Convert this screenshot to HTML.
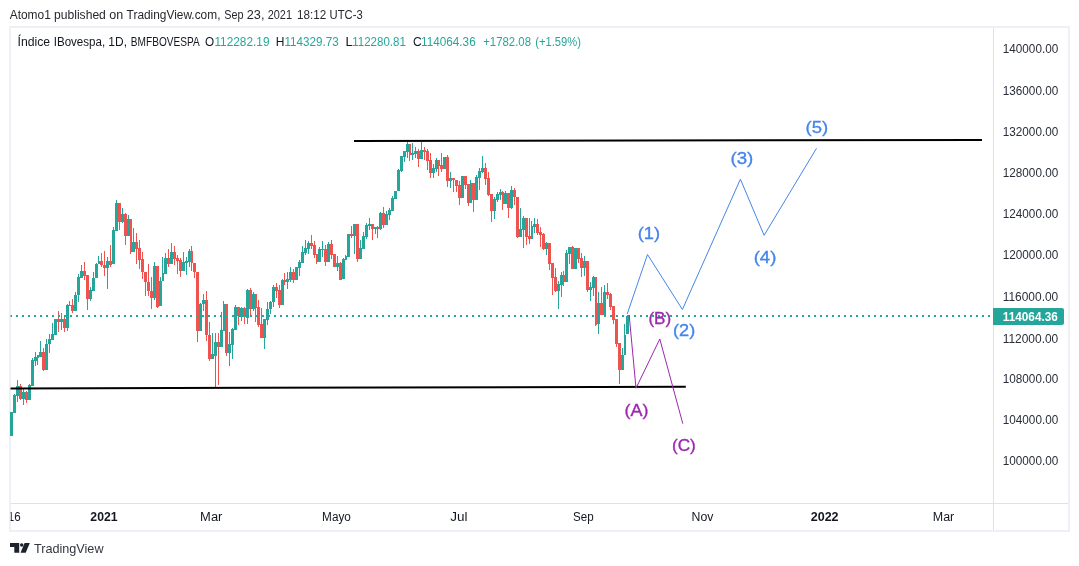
<!DOCTYPE html>
<html lang="es"><head><meta charset="utf-8"><title>Índice IBovespa, 1D, BMFBOVESPA</title>
<style>
html,body{margin:0;padding:0;background:#fff;}
body{width:1079px;height:566px;overflow:hidden;position:relative;font-family:"Liberation Sans",sans-serif;}
svg{position:absolute;left:0;top:0;display:block;will-change:transform;}
text{font-family:"Liberation Sans",sans-serif;}
</style></head><body>
<svg width="1079" height="566" viewBox="0 0 1079 566">
<g shape-rendering="crispEdges">
<rect x="10" y="27" width="1059" height="504" fill="#ffffff" stroke="#eef0f5" stroke-width="2"/>
<rect x="993" y="28" width="1" height="502" fill="#e0e1e5"/>
<rect x="11" y="503" width="1057" height="1" fill="#e0e1e5"/>
</g>
<g shape-rendering="crispEdges">
<rect x="14" y="394" width="1" height="19" fill="#26a69a"/>
<rect x="17" y="380" width="1" height="22" fill="#26a69a"/>
<rect x="20" y="384" width="1" height="16" fill="#ef5350"/>
<rect x="23" y="389" width="1" height="16" fill="#26a69a"/>
<rect x="26" y="391" width="1" height="12" fill="#ef5350"/>
<rect x="29" y="384" width="1" height="16" fill="#26a69a"/>
<rect x="32" y="358" width="1" height="28" fill="#26a69a"/>
<rect x="35" y="352" width="1" height="14" fill="#26a69a"/>
<rect x="37" y="355" width="1" height="10" fill="#26a69a"/>
<rect x="40" y="341" width="1" height="16" fill="#26a69a"/>
<rect x="43" y="348" width="1" height="23" fill="#ef5350"/>
<rect x="46" y="339" width="1" height="31" fill="#26a69a"/>
<rect x="49" y="334" width="1" height="19" fill="#26a69a"/>
<rect x="52" y="323" width="1" height="17" fill="#26a69a"/>
<rect x="58" y="311" width="1" height="21" fill="#ef5350"/>
<rect x="61" y="313" width="1" height="17" fill="#26a69a"/>
<rect x="64" y="317" width="1" height="15" fill="#ef5350"/>
<rect x="67" y="304" width="1" height="27" fill="#26a69a"/>
<rect x="69" y="301" width="1" height="5" fill="#26a69a"/>
<rect x="72" y="299" width="1" height="14" fill="#ef5350"/>
<rect x="75" y="292" width="1" height="19" fill="#26a69a"/>
<rect x="78" y="274" width="1" height="28" fill="#26a69a"/>
<rect x="81" y="265" width="1" height="13" fill="#26a69a"/>
<rect x="84" y="262" width="1" height="18" fill="#ef5350"/>
<rect x="87" y="275" width="1" height="35" fill="#ef5350"/>
<rect x="90" y="287" width="1" height="14" fill="#26a69a"/>
<rect x="93" y="272" width="1" height="19" fill="#26a69a"/>
<rect x="96" y="263" width="1" height="15" fill="#26a69a"/>
<rect x="98" y="256" width="1" height="8" fill="#26a69a"/>
<rect x="101" y="253" width="1" height="14" fill="#ef5350"/>
<rect x="104" y="251" width="1" height="25" fill="#ef5350"/>
<rect x="107" y="257" width="1" height="32" fill="#26a69a"/>
<rect x="110" y="245" width="1" height="22" fill="#ef5350"/>
<rect x="113" y="227" width="1" height="37" fill="#26a69a"/>
<rect x="116" y="200" width="1" height="31" fill="#26a69a"/>
<rect x="119" y="203" width="1" height="27" fill="#ef5350"/>
<rect x="122" y="208" width="1" height="15" fill="#26a69a"/>
<rect x="125" y="213" width="1" height="32" fill="#ef5350"/>
<rect x="128" y="215" width="1" height="21" fill="#26a69a"/>
<rect x="130" y="219" width="1" height="35" fill="#ef5350"/>
<rect x="133" y="228" width="1" height="24" fill="#26a69a"/>
<rect x="136" y="233" width="1" height="31" fill="#ef5350"/>
<rect x="139" y="240" width="1" height="29" fill="#ef5350"/>
<rect x="142" y="252" width="1" height="27" fill="#ef5350"/>
<rect x="145" y="272" width="1" height="24" fill="#ef5350"/>
<rect x="148" y="264" width="1" height="32" fill="#ef5350"/>
<rect x="151" y="277" width="1" height="32" fill="#ef5350"/>
<rect x="154" y="262" width="1" height="38" fill="#26a69a"/>
<rect x="157" y="266" width="1" height="42" fill="#ef5350"/>
<rect x="160" y="277" width="1" height="29" fill="#26a69a"/>
<rect x="162" y="257" width="1" height="24" fill="#26a69a"/>
<rect x="165" y="253" width="1" height="21" fill="#26a69a"/>
<rect x="168" y="249" width="1" height="18" fill="#ef5350"/>
<rect x="171" y="243" width="1" height="21" fill="#26a69a"/>
<rect x="174" y="246" width="1" height="19" fill="#ef5350"/>
<rect x="177" y="255" width="1" height="19" fill="#ef5350"/>
<rect x="180" y="258" width="1" height="19" fill="#ef5350"/>
<rect x="183" y="252" width="1" height="19" fill="#26a69a"/>
<rect x="186" y="257" width="1" height="18" fill="#26a69a"/>
<rect x="189" y="249" width="1" height="18" fill="#26a69a"/>
<rect x="191" y="246" width="1" height="25" fill="#ef5350"/>
<rect x="194" y="263" width="1" height="15" fill="#ef5350"/>
<rect x="197" y="272" width="1" height="70" fill="#ef5350"/>
<rect x="200" y="303" width="1" height="28" fill="#26a69a"/>
<rect x="203" y="294" width="1" height="17" fill="#26a69a"/>
<rect x="206" y="291" width="1" height="50" fill="#ef5350"/>
<rect x="209" y="322" width="1" height="39" fill="#ef5350"/>
<rect x="212" y="333" width="1" height="26" fill="#26a69a"/>
<rect x="215" y="333" width="1" height="54" fill="#26a69a"/>
<rect x="218" y="333" width="1" height="52" fill="#ef5350"/>
<rect x="221" y="312" width="1" height="35" fill="#26a69a"/>
<rect x="223" y="301" width="1" height="30" fill="#26a69a"/>
<rect x="226" y="304" width="1" height="52" fill="#ef5350"/>
<rect x="229" y="332" width="1" height="34" fill="#26a69a"/>
<rect x="232" y="328" width="1" height="31" fill="#26a69a"/>
<rect x="235" y="305" width="1" height="25" fill="#26a69a"/>
<rect x="238" y="307" width="1" height="18" fill="#ef5350"/>
<rect x="241" y="307" width="1" height="14" fill="#26a69a"/>
<rect x="244" y="307" width="1" height="17" fill="#ef5350"/>
<rect x="247" y="289" width="1" height="35" fill="#26a69a"/>
<rect x="250" y="288" width="1" height="27" fill="#ef5350"/>
<rect x="253" y="292" width="1" height="19" fill="#26a69a"/>
<rect x="255" y="294" width="1" height="28" fill="#ef5350"/>
<rect x="258" y="300" width="1" height="27" fill="#ef5350"/>
<rect x="261" y="308" width="1" height="30" fill="#ef5350"/>
<rect x="264" y="319" width="1" height="30" fill="#26a69a"/>
<rect x="267" y="302" width="1" height="23" fill="#26a69a"/>
<rect x="270" y="301" width="1" height="13" fill="#26a69a"/>
<rect x="273" y="285" width="1" height="22" fill="#26a69a"/>
<rect x="276" y="283" width="1" height="15" fill="#ef5350"/>
<rect x="279" y="285" width="1" height="23" fill="#ef5350"/>
<rect x="282" y="279" width="1" height="26" fill="#26a69a"/>
<rect x="284" y="273" width="1" height="12" fill="#ef5350"/>
<rect x="287" y="272" width="1" height="17" fill="#26a69a"/>
<rect x="290" y="267" width="1" height="15" fill="#26a69a"/>
<rect x="293" y="269" width="1" height="14" fill="#ef5350"/>
<rect x="299" y="260" width="1" height="16" fill="#26a69a"/>
<rect x="302" y="246" width="1" height="17" fill="#26a69a"/>
<rect x="305" y="240" width="1" height="15" fill="#26a69a"/>
<rect x="308" y="241" width="1" height="13" fill="#26a69a"/>
<rect x="311" y="235" width="1" height="14" fill="#ef5350"/>
<rect x="314" y="241" width="1" height="17" fill="#ef5350"/>
<rect x="316" y="254" width="1" height="10" fill="#ef5350"/>
<rect x="319" y="247" width="1" height="15" fill="#26a69a"/>
<rect x="322" y="241" width="1" height="16" fill="#26a69a"/>
<rect x="325" y="245" width="1" height="21" fill="#ef5350"/>
<rect x="328" y="242" width="1" height="20" fill="#26a69a"/>
<rect x="331" y="240" width="1" height="19" fill="#ef5350"/>
<rect x="337" y="256" width="1" height="15" fill="#26a69a"/>
<rect x="340" y="262" width="1" height="18" fill="#ef5350"/>
<rect x="343" y="258" width="1" height="21" fill="#26a69a"/>
<rect x="345" y="255" width="1" height="5" fill="#26a69a"/>
<rect x="351" y="226" width="1" height="12" fill="#ef5350"/>
<rect x="354" y="224" width="1" height="30" fill="#26a69a"/>
<rect x="357" y="224" width="1" height="38" fill="#ef5350"/>
<rect x="360" y="240" width="1" height="19" fill="#26a69a"/>
<rect x="363" y="232" width="1" height="17" fill="#26a69a"/>
<rect x="366" y="223" width="1" height="16" fill="#26a69a"/>
<rect x="369" y="218" width="1" height="12" fill="#26a69a"/>
<rect x="372" y="224" width="1" height="16" fill="#ef5350"/>
<rect x="375" y="227" width="1" height="7" fill="#26a69a"/>
<rect x="377" y="226" width="1" height="12" fill="#ef5350"/>
<rect x="380" y="212" width="1" height="18" fill="#26a69a"/>
<rect x="383" y="207" width="1" height="21" fill="#ef5350"/>
<rect x="386" y="211" width="1" height="14" fill="#26a69a"/>
<rect x="389" y="208" width="1" height="12" fill="#26a69a"/>
<rect x="392" y="196" width="1" height="15" fill="#26a69a"/>
<rect x="398" y="169" width="1" height="22" fill="#26a69a"/>
<rect x="401" y="156" width="1" height="16" fill="#26a69a"/>
<rect x="404" y="151" width="1" height="11" fill="#26a69a"/>
<rect x="407" y="142" width="1" height="16" fill="#26a69a"/>
<rect x="409" y="144" width="1" height="17" fill="#ef5350"/>
<rect x="412" y="143" width="1" height="17" fill="#26a69a"/>
<rect x="415" y="147" width="1" height="11" fill="#26a69a"/>
<rect x="418" y="149" width="1" height="18" fill="#ef5350"/>
<rect x="421" y="142" width="1" height="17" fill="#26a69a"/>
<rect x="424" y="147" width="1" height="13" fill="#ef5350"/>
<rect x="427" y="149" width="1" height="21" fill="#ef5350"/>
<rect x="430" y="153" width="1" height="25" fill="#ef5350"/>
<rect x="433" y="164" width="1" height="14" fill="#26a69a"/>
<rect x="436" y="158" width="1" height="14" fill="#26a69a"/>
<rect x="438" y="160" width="1" height="16" fill="#ef5350"/>
<rect x="441" y="153" width="1" height="19" fill="#ef5350"/>
<rect x="447" y="155" width="1" height="32" fill="#ef5350"/>
<rect x="450" y="172" width="1" height="16" fill="#26a69a"/>
<rect x="453" y="178" width="1" height="14" fill="#ef5350"/>
<rect x="456" y="180" width="1" height="12" fill="#ef5350"/>
<rect x="459" y="181" width="1" height="24" fill="#ef5350"/>
<rect x="465" y="176" width="1" height="13" fill="#ef5350"/>
<rect x="468" y="184" width="1" height="22" fill="#ef5350"/>
<rect x="470" y="180" width="1" height="23" fill="#26a69a"/>
<rect x="473" y="183" width="1" height="29" fill="#ef5350"/>
<rect x="476" y="175" width="1" height="25" fill="#26a69a"/>
<rect x="479" y="168" width="1" height="22" fill="#26a69a"/>
<rect x="482" y="156" width="1" height="17" fill="#26a69a"/>
<rect x="485" y="163" width="1" height="22" fill="#ef5350"/>
<rect x="488" y="172" width="1" height="24" fill="#ef5350"/>
<rect x="491" y="194" width="1" height="28" fill="#ef5350"/>
<rect x="494" y="197" width="1" height="22" fill="#26a69a"/>
<rect x="497" y="192" width="1" height="10" fill="#26a69a"/>
<rect x="500" y="189" width="1" height="11" fill="#26a69a"/>
<rect x="502" y="191" width="1" height="19" fill="#ef5350"/>
<rect x="505" y="191" width="1" height="13" fill="#26a69a"/>
<rect x="508" y="193" width="1" height="25" fill="#ef5350"/>
<rect x="511" y="186" width="1" height="23" fill="#26a69a"/>
<rect x="514" y="188" width="1" height="17" fill="#ef5350"/>
<rect x="517" y="197" width="1" height="41" fill="#ef5350"/>
<rect x="520" y="208" width="1" height="29" fill="#26a69a"/>
<rect x="523" y="216" width="1" height="32" fill="#26a69a"/>
<rect x="526" y="218" width="1" height="27" fill="#ef5350"/>
<rect x="529" y="218" width="1" height="26" fill="#ef5350"/>
<rect x="531" y="221" width="1" height="18" fill="#26a69a"/>
<rect x="534" y="218" width="1" height="15" fill="#26a69a"/>
<rect x="537" y="219" width="1" height="16" fill="#ef5350"/>
<rect x="540" y="227" width="1" height="20" fill="#ef5350"/>
<rect x="543" y="233" width="1" height="17" fill="#ef5350"/>
<rect x="546" y="242" width="1" height="13" fill="#26a69a"/>
<rect x="549" y="243" width="1" height="27" fill="#ef5350"/>
<rect x="552" y="263" width="1" height="32" fill="#ef5350"/>
<rect x="555" y="268" width="1" height="24" fill="#ef5350"/>
<rect x="558" y="281" width="1" height="28" fill="#26a69a"/>
<rect x="561" y="272" width="1" height="25" fill="#26a69a"/>
<rect x="563" y="271" width="1" height="15" fill="#ef5350"/>
<rect x="566" y="250" width="1" height="32" fill="#26a69a"/>
<rect x="569" y="247" width="1" height="17" fill="#26a69a"/>
<rect x="572" y="246" width="1" height="23" fill="#ef5350"/>
<rect x="578" y="248" width="1" height="15" fill="#ef5350"/>
<rect x="581" y="253" width="1" height="24" fill="#ef5350"/>
<rect x="584" y="256" width="1" height="20" fill="#26a69a"/>
<rect x="587" y="261" width="1" height="31" fill="#ef5350"/>
<rect x="590" y="282" width="1" height="19" fill="#26a69a"/>
<rect x="593" y="276" width="1" height="20" fill="#26a69a"/>
<rect x="595" y="277" width="1" height="49" fill="#ef5350"/>
<rect x="598" y="292" width="1" height="42" fill="#26a69a"/>
<rect x="601" y="287" width="1" height="28" fill="#ef5350"/>
<rect x="604" y="285" width="1" height="32" fill="#26a69a"/>
<rect x="607" y="283" width="1" height="16" fill="#ef5350"/>
<rect x="610" y="293" width="1" height="17" fill="#ef5350"/>
<rect x="613" y="306" width="1" height="18" fill="#ef5350"/>
<rect x="616" y="319" width="1" height="28" fill="#ef5350"/>
<rect x="619" y="343" width="1" height="41" fill="#ef5350"/>
<rect x="622" y="348" width="1" height="22" fill="#26a69a"/>
<rect x="624" y="324" width="1" height="31" fill="#26a69a"/>
<rect x="627" y="315" width="1" height="19" fill="#26a69a"/>
<rect x="10" y="412" width="3" height="24" fill="#26a69a"/>
<rect x="13" y="395" width="3" height="18" fill="#26a69a"/>
<rect x="16" y="386" width="3" height="10" fill="#26a69a"/>
<rect x="19" y="386" width="3" height="13" fill="#ef5350"/>
<rect x="22" y="392" width="3" height="7" fill="#26a69a"/>
<rect x="25" y="392" width="3" height="8" fill="#ef5350"/>
<rect x="28" y="385" width="3" height="15" fill="#26a69a"/>
<rect x="31" y="360" width="3" height="26" fill="#26a69a"/>
<rect x="34" y="357" width="3" height="4" fill="#26a69a"/>
<rect x="37" y="355" width="2" height="3" fill="#26a69a"/>
<rect x="39" y="352" width="3" height="5" fill="#26a69a"/>
<rect x="42" y="352" width="3" height="18" fill="#ef5350"/>
<rect x="45" y="344" width="3" height="26" fill="#26a69a"/>
<rect x="48" y="339" width="3" height="5" fill="#26a69a"/>
<rect x="51" y="334" width="3" height="6" fill="#26a69a"/>
<rect x="54" y="319" width="3" height="16" fill="#26a69a"/>
<rect x="57" y="319" width="3" height="3" fill="#ef5350"/>
<rect x="60" y="319" width="3" height="3" fill="#26a69a"/>
<rect x="63" y="319" width="3" height="9" fill="#ef5350"/>
<rect x="66" y="305" width="3" height="23" fill="#26a69a"/>
<rect x="69" y="305" width="2" height="1" fill="#26a69a"/>
<rect x="71" y="305" width="3" height="6" fill="#ef5350"/>
<rect x="74" y="295" width="3" height="16" fill="#26a69a"/>
<rect x="77" y="277" width="3" height="18" fill="#26a69a"/>
<rect x="80" y="271" width="3" height="7" fill="#26a69a"/>
<rect x="83" y="271" width="3" height="5" fill="#ef5350"/>
<rect x="86" y="275" width="3" height="24" fill="#ef5350"/>
<rect x="89" y="290" width="3" height="9" fill="#26a69a"/>
<rect x="92" y="278" width="3" height="13" fill="#26a69a"/>
<rect x="95" y="264" width="3" height="14" fill="#26a69a"/>
<rect x="98" y="261" width="2" height="3" fill="#26a69a"/>
<rect x="100" y="261" width="3" height="4" fill="#ef5350"/>
<rect x="103" y="265" width="3" height="3" fill="#ef5350"/>
<rect x="106" y="261" width="3" height="7" fill="#26a69a"/>
<rect x="109" y="261" width="3" height="4" fill="#ef5350"/>
<rect x="112" y="230" width="3" height="34" fill="#26a69a"/>
<rect x="115" y="203" width="3" height="28" fill="#26a69a"/>
<rect x="118" y="203" width="3" height="19" fill="#ef5350"/>
<rect x="121" y="214" width="3" height="8" fill="#26a69a"/>
<rect x="124" y="214" width="3" height="22" fill="#ef5350"/>
<rect x="127" y="219" width="3" height="17" fill="#26a69a"/>
<rect x="130" y="219" width="2" height="33" fill="#ef5350"/>
<rect x="132" y="242" width="3" height="10" fill="#26a69a"/>
<rect x="135" y="242" width="3" height="7" fill="#ef5350"/>
<rect x="138" y="248" width="3" height="12" fill="#ef5350"/>
<rect x="141" y="259" width="3" height="13" fill="#ef5350"/>
<rect x="144" y="272" width="3" height="10" fill="#ef5350"/>
<rect x="147" y="282" width="3" height="9" fill="#ef5350"/>
<rect x="150" y="291" width="3" height="7" fill="#ef5350"/>
<rect x="153" y="266" width="3" height="32" fill="#26a69a"/>
<rect x="156" y="266" width="3" height="41" fill="#ef5350"/>
<rect x="159" y="281" width="3" height="25" fill="#26a69a"/>
<rect x="162" y="273" width="2" height="8" fill="#26a69a"/>
<rect x="164" y="258" width="3" height="16" fill="#26a69a"/>
<rect x="167" y="258" width="3" height="6" fill="#ef5350"/>
<rect x="170" y="252" width="3" height="12" fill="#26a69a"/>
<rect x="173" y="252" width="3" height="7" fill="#ef5350"/>
<rect x="176" y="258" width="3" height="3" fill="#ef5350"/>
<rect x="179" y="260" width="3" height="11" fill="#ef5350"/>
<rect x="182" y="262" width="3" height="9" fill="#26a69a"/>
<rect x="185" y="261" width="3" height="2" fill="#26a69a"/>
<rect x="188" y="251" width="3" height="11" fill="#26a69a"/>
<rect x="191" y="251" width="2" height="12" fill="#ef5350"/>
<rect x="193" y="263" width="3" height="9" fill="#ef5350"/>
<rect x="196" y="272" width="3" height="59" fill="#ef5350"/>
<rect x="199" y="304" width="3" height="27" fill="#26a69a"/>
<rect x="202" y="300" width="3" height="4" fill="#26a69a"/>
<rect x="205" y="300" width="3" height="35" fill="#ef5350"/>
<rect x="208" y="335" width="3" height="24" fill="#ef5350"/>
<rect x="211" y="354" width="3" height="5" fill="#26a69a"/>
<rect x="214" y="342" width="3" height="14" fill="#26a69a"/>
<rect x="217" y="342" width="3" height="5" fill="#ef5350"/>
<rect x="220" y="330" width="3" height="17" fill="#26a69a"/>
<rect x="223" y="304" width="2" height="27" fill="#26a69a"/>
<rect x="225" y="304" width="3" height="49" fill="#ef5350"/>
<rect x="228" y="344" width="3" height="9" fill="#26a69a"/>
<rect x="231" y="329" width="3" height="16" fill="#26a69a"/>
<rect x="234" y="307" width="3" height="23" fill="#26a69a"/>
<rect x="237" y="307" width="3" height="9" fill="#ef5350"/>
<rect x="240" y="308" width="3" height="9" fill="#26a69a"/>
<rect x="243" y="308" width="3" height="9" fill="#ef5350"/>
<rect x="246" y="290" width="3" height="28" fill="#26a69a"/>
<rect x="249" y="290" width="3" height="19" fill="#ef5350"/>
<rect x="252" y="294" width="3" height="15" fill="#26a69a"/>
<rect x="255" y="294" width="2" height="14" fill="#ef5350"/>
<rect x="257" y="307" width="3" height="18" fill="#ef5350"/>
<rect x="260" y="324" width="3" height="14" fill="#ef5350"/>
<rect x="263" y="319" width="3" height="19" fill="#26a69a"/>
<rect x="266" y="309" width="3" height="11" fill="#26a69a"/>
<rect x="269" y="302" width="3" height="7" fill="#26a69a"/>
<rect x="272" y="287" width="3" height="15" fill="#26a69a"/>
<rect x="275" y="287" width="3" height="4" fill="#ef5350"/>
<rect x="278" y="290" width="3" height="15" fill="#ef5350"/>
<rect x="281" y="280" width="3" height="25" fill="#26a69a"/>
<rect x="284" y="280" width="2" height="2" fill="#ef5350"/>
<rect x="286" y="279" width="3" height="3" fill="#26a69a"/>
<rect x="289" y="272" width="3" height="8" fill="#26a69a"/>
<rect x="292" y="272" width="3" height="8" fill="#ef5350"/>
<rect x="295" y="267" width="3" height="13" fill="#26a69a"/>
<rect x="298" y="262" width="3" height="6" fill="#26a69a"/>
<rect x="301" y="252" width="3" height="11" fill="#26a69a"/>
<rect x="304" y="248" width="3" height="5" fill="#26a69a"/>
<rect x="307" y="243" width="3" height="6" fill="#26a69a"/>
<rect x="310" y="243" width="3" height="3" fill="#ef5350"/>
<rect x="313" y="245" width="3" height="10" fill="#ef5350"/>
<rect x="316" y="254" width="2" height="8" fill="#ef5350"/>
<rect x="318" y="249" width="3" height="13" fill="#26a69a"/>
<rect x="321" y="249" width="3" height="1" fill="#26a69a"/>
<rect x="324" y="249" width="3" height="13" fill="#ef5350"/>
<rect x="327" y="244" width="3" height="18" fill="#26a69a"/>
<rect x="330" y="244" width="3" height="11" fill="#ef5350"/>
<rect x="333" y="254" width="3" height="13" fill="#ef5350"/>
<rect x="336" y="263" width="3" height="4" fill="#26a69a"/>
<rect x="339" y="263" width="3" height="17" fill="#ef5350"/>
<rect x="342" y="259" width="3" height="20" fill="#26a69a"/>
<rect x="345" y="256" width="2" height="4" fill="#26a69a"/>
<rect x="347" y="234" width="3" height="23" fill="#26a69a"/>
<rect x="350" y="234" width="3" height="2" fill="#ef5350"/>
<rect x="353" y="224" width="3" height="12" fill="#26a69a"/>
<rect x="356" y="224" width="3" height="35" fill="#ef5350"/>
<rect x="359" y="248" width="3" height="11" fill="#26a69a"/>
<rect x="362" y="236" width="3" height="13" fill="#26a69a"/>
<rect x="365" y="225" width="3" height="12" fill="#26a69a"/>
<rect x="368" y="224" width="3" height="2" fill="#26a69a"/>
<rect x="371" y="224" width="3" height="5" fill="#ef5350"/>
<rect x="374" y="227" width="3" height="2" fill="#26a69a"/>
<rect x="377" y="227" width="2" height="2" fill="#ef5350"/>
<rect x="379" y="213" width="3" height="16" fill="#26a69a"/>
<rect x="382" y="213" width="3" height="12" fill="#ef5350"/>
<rect x="385" y="214" width="3" height="11" fill="#26a69a"/>
<rect x="388" y="210" width="3" height="5" fill="#26a69a"/>
<rect x="391" y="198" width="3" height="13" fill="#26a69a"/>
<rect x="394" y="191" width="3" height="8" fill="#26a69a"/>
<rect x="397" y="170" width="3" height="21" fill="#26a69a"/>
<rect x="400" y="156" width="3" height="15" fill="#26a69a"/>
<rect x="403" y="151" width="3" height="6" fill="#26a69a"/>
<rect x="406" y="144" width="3" height="8" fill="#26a69a"/>
<rect x="409" y="144" width="2" height="11" fill="#ef5350"/>
<rect x="411" y="153" width="3" height="2" fill="#26a69a"/>
<rect x="414" y="151" width="3" height="3" fill="#26a69a"/>
<rect x="417" y="151" width="3" height="8" fill="#ef5350"/>
<rect x="420" y="150" width="3" height="9" fill="#26a69a"/>
<rect x="423" y="150" width="3" height="2" fill="#ef5350"/>
<rect x="426" y="151" width="3" height="10" fill="#ef5350"/>
<rect x="429" y="160" width="3" height="13" fill="#ef5350"/>
<rect x="432" y="168" width="3" height="5" fill="#26a69a"/>
<rect x="435" y="160" width="3" height="9" fill="#26a69a"/>
<rect x="438" y="160" width="2" height="6" fill="#ef5350"/>
<rect x="440" y="165" width="3" height="4" fill="#ef5350"/>
<rect x="443" y="157" width="3" height="12" fill="#26a69a"/>
<rect x="446" y="157" width="3" height="24" fill="#ef5350"/>
<rect x="449" y="178" width="3" height="3" fill="#26a69a"/>
<rect x="452" y="178" width="3" height="2" fill="#ef5350"/>
<rect x="455" y="180" width="3" height="6" fill="#ef5350"/>
<rect x="458" y="185" width="3" height="13" fill="#ef5350"/>
<rect x="461" y="176" width="3" height="22" fill="#26a69a"/>
<rect x="464" y="176" width="3" height="9" fill="#ef5350"/>
<rect x="467" y="184" width="3" height="19" fill="#ef5350"/>
<rect x="470" y="183" width="2" height="20" fill="#26a69a"/>
<rect x="472" y="183" width="3" height="17" fill="#ef5350"/>
<rect x="475" y="177" width="3" height="23" fill="#26a69a"/>
<rect x="478" y="171" width="3" height="7" fill="#26a69a"/>
<rect x="481" y="168" width="3" height="4" fill="#26a69a"/>
<rect x="484" y="168" width="3" height="11" fill="#ef5350"/>
<rect x="487" y="178" width="3" height="17" fill="#ef5350"/>
<rect x="490" y="194" width="3" height="17" fill="#ef5350"/>
<rect x="493" y="199" width="3" height="12" fill="#26a69a"/>
<rect x="496" y="194" width="3" height="6" fill="#26a69a"/>
<rect x="499" y="192" width="3" height="3" fill="#26a69a"/>
<rect x="502" y="192" width="2" height="12" fill="#ef5350"/>
<rect x="504" y="193" width="3" height="11" fill="#26a69a"/>
<rect x="507" y="193" width="3" height="15" fill="#ef5350"/>
<rect x="510" y="190" width="3" height="18" fill="#26a69a"/>
<rect x="513" y="190" width="3" height="7" fill="#ef5350"/>
<rect x="516" y="197" width="3" height="40" fill="#ef5350"/>
<rect x="519" y="229" width="3" height="8" fill="#26a69a"/>
<rect x="522" y="218" width="3" height="12" fill="#26a69a"/>
<rect x="525" y="218" width="3" height="19" fill="#ef5350"/>
<rect x="528" y="236" width="3" height="3" fill="#ef5350"/>
<rect x="531" y="226" width="2" height="13" fill="#26a69a"/>
<rect x="533" y="224" width="3" height="3" fill="#26a69a"/>
<rect x="536" y="224" width="3" height="9" fill="#ef5350"/>
<rect x="539" y="232" width="3" height="3" fill="#ef5350"/>
<rect x="542" y="234" width="3" height="15" fill="#ef5350"/>
<rect x="545" y="243" width="3" height="6" fill="#26a69a"/>
<rect x="548" y="243" width="3" height="21" fill="#ef5350"/>
<rect x="551" y="263" width="3" height="15" fill="#ef5350"/>
<rect x="554" y="277" width="3" height="14" fill="#ef5350"/>
<rect x="557" y="284" width="3" height="7" fill="#26a69a"/>
<rect x="560" y="275" width="3" height="10" fill="#26a69a"/>
<rect x="563" y="275" width="2" height="7" fill="#ef5350"/>
<rect x="565" y="253" width="3" height="29" fill="#26a69a"/>
<rect x="568" y="247" width="3" height="7" fill="#26a69a"/>
<rect x="571" y="247" width="3" height="22" fill="#ef5350"/>
<rect x="574" y="248" width="3" height="21" fill="#26a69a"/>
<rect x="577" y="248" width="3" height="11" fill="#ef5350"/>
<rect x="580" y="258" width="3" height="10" fill="#ef5350"/>
<rect x="583" y="261" width="3" height="7" fill="#26a69a"/>
<rect x="586" y="261" width="3" height="29" fill="#ef5350"/>
<rect x="589" y="287" width="3" height="3" fill="#26a69a"/>
<rect x="592" y="277" width="3" height="11" fill="#26a69a"/>
<rect x="595" y="277" width="2" height="48" fill="#ef5350"/>
<rect x="597" y="303" width="3" height="21" fill="#26a69a"/>
<rect x="600" y="303" width="3" height="12" fill="#ef5350"/>
<rect x="603" y="292" width="3" height="23" fill="#26a69a"/>
<rect x="606" y="292" width="3" height="3" fill="#ef5350"/>
<rect x="609" y="294" width="3" height="13" fill="#ef5350"/>
<rect x="612" y="306" width="3" height="14" fill="#ef5350"/>
<rect x="615" y="319" width="3" height="25" fill="#ef5350"/>
<rect x="618" y="343" width="3" height="27" fill="#ef5350"/>
<rect x="621" y="355" width="3" height="15" fill="#26a69a"/>
<rect x="624" y="335" width="2" height="20" fill="#26a69a"/>
<rect x="626" y="316" width="3" height="18" fill="#26a69a"/>
</g>
<g shape-rendering="crispEdges" fill="#26a69a">
<rect x="10" y="315" width="1" height="2" fill-opacity="0.5"/><rect x="11" y="315" width="1" height="2"/><rect x="16" y="315" width="2" height="2"/><rect x="22" y="315" width="2" height="2"/><rect x="28" y="315" width="2" height="2"/><rect x="34" y="315" width="2" height="2"/><rect x="40" y="315" width="2" height="2"/><rect x="46" y="315" width="2" height="2"/><rect x="52" y="315" width="2" height="2"/><rect x="58" y="315" width="2" height="2"/><rect x="64" y="315" width="2" height="2"/><rect x="70" y="315" width="2" height="2"/><rect x="76" y="315" width="2" height="2"/><rect x="82" y="315" width="2" height="2"/><rect x="88" y="315" width="2" height="2"/><rect x="94" y="315" width="2" height="2"/><rect x="100" y="315" width="2" height="2"/><rect x="106" y="315" width="2" height="2"/><rect x="112" y="315" width="2" height="2"/><rect x="118" y="315" width="2" height="2"/><rect x="124" y="315" width="2" height="2"/><rect x="130" y="315" width="2" height="2"/><rect x="136" y="315" width="2" height="2"/><rect x="142" y="315" width="2" height="2"/><rect x="148" y="315" width="2" height="2"/><rect x="154" y="315" width="2" height="2"/><rect x="160" y="315" width="2" height="2"/><rect x="166" y="315" width="2" height="2"/><rect x="172" y="315" width="2" height="2"/><rect x="178" y="315" width="2" height="2"/><rect x="184" y="315" width="2" height="2"/><rect x="190" y="315" width="2" height="2"/><rect x="196" y="315" width="2" height="2"/><rect x="202" y="315" width="2" height="2"/><rect x="208" y="315" width="2" height="2"/><rect x="214" y="315" width="2" height="2"/><rect x="220" y="315" width="2" height="2"/><rect x="226" y="315" width="2" height="2"/><rect x="232" y="315" width="2" height="2"/><rect x="238" y="315" width="2" height="2"/><rect x="244" y="315" width="2" height="2"/><rect x="250" y="315" width="2" height="2"/><rect x="256" y="315" width="2" height="2"/><rect x="262" y="315" width="2" height="2"/><rect x="268" y="315" width="2" height="2"/><rect x="274" y="315" width="2" height="2"/><rect x="280" y="315" width="2" height="2"/><rect x="286" y="315" width="2" height="2"/><rect x="292" y="315" width="2" height="2"/><rect x="298" y="315" width="2" height="2"/><rect x="304" y="315" width="2" height="2"/><rect x="310" y="315" width="2" height="2"/><rect x="316" y="315" width="2" height="2"/><rect x="322" y="315" width="2" height="2"/><rect x="328" y="315" width="2" height="2"/><rect x="334" y="315" width="2" height="2"/><rect x="340" y="315" width="2" height="2"/><rect x="346" y="315" width="2" height="2"/><rect x="352" y="315" width="2" height="2"/><rect x="358" y="315" width="2" height="2"/><rect x="364" y="315" width="2" height="2"/><rect x="370" y="315" width="2" height="2"/><rect x="376" y="315" width="2" height="2"/><rect x="382" y="315" width="2" height="2"/><rect x="388" y="315" width="2" height="2"/><rect x="394" y="315" width="2" height="2"/><rect x="400" y="315" width="2" height="2"/><rect x="406" y="315" width="2" height="2"/><rect x="412" y="315" width="2" height="2"/><rect x="418" y="315" width="2" height="2"/><rect x="424" y="315" width="2" height="2"/><rect x="430" y="315" width="2" height="2"/><rect x="436" y="315" width="2" height="2"/><rect x="442" y="315" width="2" height="2"/><rect x="448" y="315" width="2" height="2"/><rect x="454" y="315" width="2" height="2"/><rect x="460" y="315" width="2" height="2"/><rect x="466" y="315" width="2" height="2"/><rect x="472" y="315" width="2" height="2"/><rect x="478" y="315" width="2" height="2"/><rect x="484" y="315" width="2" height="2"/><rect x="490" y="315" width="2" height="2"/><rect x="496" y="315" width="2" height="2"/><rect x="502" y="315" width="2" height="2"/><rect x="508" y="315" width="2" height="2"/><rect x="514" y="315" width="2" height="2"/><rect x="520" y="315" width="2" height="2"/><rect x="526" y="315" width="2" height="2"/><rect x="532" y="315" width="2" height="2"/><rect x="538" y="315" width="2" height="2"/><rect x="544" y="315" width="2" height="2"/><rect x="550" y="315" width="2" height="2"/><rect x="556" y="315" width="2" height="2"/><rect x="562" y="315" width="2" height="2"/><rect x="568" y="315" width="2" height="2"/><rect x="574" y="315" width="2" height="2"/><rect x="580" y="315" width="2" height="2"/><rect x="586" y="315" width="2" height="2"/><rect x="592" y="315" width="2" height="2"/><rect x="598" y="315" width="2" height="2"/><rect x="604" y="315" width="2" height="2"/><rect x="610" y="315" width="2" height="2"/><rect x="616" y="315" width="2" height="2"/><rect x="622" y="315" width="2" height="2"/><rect x="628" y="315" width="2" height="2"/><rect x="634" y="315" width="2" height="2"/><rect x="640" y="315" width="2" height="2"/><rect x="646" y="315" width="2" height="2"/><rect x="652" y="315" width="2" height="2"/><rect x="658" y="315" width="2" height="2"/><rect x="664" y="315" width="2" height="2"/><rect x="670" y="315" width="2" height="2"/><rect x="676" y="315" width="2" height="2"/><rect x="682" y="315" width="2" height="2"/><rect x="688" y="315" width="2" height="2"/><rect x="694" y="315" width="2" height="2"/><rect x="700" y="315" width="2" height="2"/><rect x="706" y="315" width="2" height="2"/><rect x="712" y="315" width="2" height="2"/><rect x="718" y="315" width="2" height="2"/><rect x="724" y="315" width="2" height="2"/><rect x="730" y="315" width="2" height="2"/><rect x="736" y="315" width="2" height="2"/><rect x="742" y="315" width="2" height="2"/><rect x="748" y="315" width="2" height="2"/><rect x="754" y="315" width="2" height="2"/><rect x="760" y="315" width="2" height="2"/><rect x="766" y="315" width="2" height="2"/><rect x="772" y="315" width="2" height="2"/><rect x="778" y="315" width="2" height="2"/><rect x="784" y="315" width="2" height="2"/><rect x="790" y="315" width="2" height="2"/><rect x="796" y="315" width="2" height="2"/><rect x="802" y="315" width="2" height="2"/><rect x="808" y="315" width="2" height="2"/><rect x="814" y="315" width="2" height="2"/><rect x="820" y="315" width="2" height="2"/><rect x="826" y="315" width="2" height="2"/><rect x="832" y="315" width="2" height="2"/><rect x="838" y="315" width="2" height="2"/><rect x="844" y="315" width="2" height="2"/><rect x="850" y="315" width="2" height="2"/><rect x="856" y="315" width="2" height="2"/><rect x="862" y="315" width="2" height="2"/><rect x="868" y="315" width="2" height="2"/><rect x="874" y="315" width="2" height="2"/><rect x="880" y="315" width="2" height="2"/><rect x="886" y="315" width="2" height="2"/><rect x="892" y="315" width="2" height="2"/><rect x="898" y="315" width="2" height="2"/><rect x="904" y="315" width="2" height="2"/><rect x="910" y="315" width="2" height="2"/><rect x="916" y="315" width="2" height="2"/><rect x="922" y="315" width="2" height="2"/><rect x="928" y="315" width="2" height="2"/><rect x="934" y="315" width="2" height="2"/><rect x="940" y="315" width="2" height="2"/><rect x="946" y="315" width="2" height="2"/><rect x="952" y="315" width="2" height="2"/><rect x="958" y="315" width="2" height="2"/><rect x="964" y="315" width="2" height="2"/><rect x="970" y="315" width="2" height="2"/><rect x="976" y="315" width="2" height="2"/><rect x="982" y="315" width="2" height="2"/><rect x="988" y="315" width="2" height="2"/>
</g>
<g stroke="#000" stroke-width="2" stroke-linecap="butt"><line x1="354" y1="140.9" x2="982" y2="139.9"/><line x1="10.5" y1="388.4" x2="685.8" y2="386.8"/></g>
<polyline fill="none" stroke="#4585ea" stroke-width="1" points="627.2,314 647.5,254.5 682.4,309.5 740.4,179.2 764.1,235.3 816.5,148.3"/>
<polyline fill="none" stroke="#9c27b0" stroke-width="1" points="629.2,315.5 636,388.2 659.8,339 682.8,423.7"/>
<path d="M993 308h69a2 2 0 0 1 2 2v13a2 2 0 0 1-2 2h-69z" fill="#26a69a"/>
<g fill="#1e222d"><path d="M10 543h9.2v9.8h-4.9v-5.7h-4.3z"/><circle cx="21.7" cy="544.9" r="1.75"/><path d="M24.6 543h5.2l-4.1 9.8h-5.2z"/></g>
<defs><clipPath id="tclip"><rect x="10.6" y="504" width="60" height="26"/></clipPath></defs>
<text x="9.66" y="19.2" font-size="12" fill="#26282e" textLength="41.18" lengthAdjust="spacingAndGlyphs">Atomo1</text>
<text x="54.04" y="19.2" font-size="12" fill="#26282e" textLength="51.81" lengthAdjust="spacingAndGlyphs">published</text>
<text x="109.21" y="19.2" font-size="12" fill="#26282e" textLength="13.94" lengthAdjust="spacingAndGlyphs">on</text>
<text x="126.62" y="19.2" font-size="12" fill="#26282e" textLength="93.83" lengthAdjust="spacingAndGlyphs">TradingView.com,</text>
<text x="224.19" y="19.2" font-size="12" fill="#26282e" textLength="19.21" lengthAdjust="spacingAndGlyphs">Sep</text>
<text x="246.73" y="19.2" font-size="12" fill="#26282e" textLength="17.72" lengthAdjust="spacingAndGlyphs">23,</text>
<text x="267.74" y="19.2" font-size="12" fill="#26282e" textLength="24.24" lengthAdjust="spacingAndGlyphs">2021</text>
<text x="297" y="19.2" font-size="12" fill="#26282e" textLength="29.19" lengthAdjust="spacingAndGlyphs">18:12</text>
<text x="329.58" y="19.2" font-size="12" fill="#26282e" textLength="33.07" lengthAdjust="spacingAndGlyphs">UTC-3</text>
<text x="17.54" y="45.8" font-size="12" fill="#131722" textLength="32.62" lengthAdjust="spacingAndGlyphs">Índice</text>
<text x="53.74" y="45.8" font-size="12" fill="#131722" textLength="51.43" lengthAdjust="spacingAndGlyphs">IBovespa,</text>
<text x="108.34" y="45.8" font-size="12" fill="#131722" textLength="18.66" lengthAdjust="spacingAndGlyphs">1D,</text>
<text x="130.87" y="45.8" font-size="12" fill="#131722" textLength="68.76" lengthAdjust="spacingAndGlyphs">BMFBOVESPA</text>
<text x="204.94" y="45.8" font-size="12" fill="#131722" textLength="9.14" lengthAdjust="spacingAndGlyphs">O</text>
<text x="275.69" y="45.8" font-size="12" fill="#131722" textLength="8.7" lengthAdjust="spacingAndGlyphs">H</text>
<text x="345.56" y="45.8" font-size="12" fill="#131722" textLength="7.26" lengthAdjust="spacingAndGlyphs">L</text>
<text x="413.06" y="45.8" font-size="12" fill="#131722" textLength="8.73" lengthAdjust="spacingAndGlyphs">C</text>
<text x="214.4" y="45.8" font-size="12" fill="#26a69a" textLength="55.08" lengthAdjust="spacingAndGlyphs">112282.19</text>
<text x="284.5" y="45.8" font-size="12" fill="#26a69a" textLength="54.22" lengthAdjust="spacingAndGlyphs">114329.73</text>
<text x="352.17" y="45.8" font-size="12" fill="#26a69a" textLength="53.69" lengthAdjust="spacingAndGlyphs">112280.81</text>
<text x="421" y="45.8" font-size="12" fill="#26a69a" textLength="54.71" lengthAdjust="spacingAndGlyphs">114064.36</text>
<text x="483.23" y="45.8" font-size="12" fill="#26a69a" textLength="47.78" lengthAdjust="spacingAndGlyphs">+1782.08</text>
<text x="535.32" y="45.8" font-size="12" fill="#26a69a" textLength="45.59" lengthAdjust="spacingAndGlyphs">(+1.59%)</text>
<text x="1002.74" y="52.9" font-size="12" fill="#2a2e39" textLength="55.53" lengthAdjust="spacingAndGlyphs">140000.00</text>
<text x="1002.74" y="95.1" font-size="12" fill="#2a2e39" textLength="55.53" lengthAdjust="spacingAndGlyphs">136000.00</text>
<text x="1002.74" y="136.3" font-size="12" fill="#2a2e39" textLength="55.53" lengthAdjust="spacingAndGlyphs">132000.00</text>
<text x="1002.74" y="176.5" font-size="12" fill="#2a2e39" textLength="55.53" lengthAdjust="spacingAndGlyphs">128000.00</text>
<text x="1002.74" y="217.7" font-size="12" fill="#2a2e39" textLength="55.53" lengthAdjust="spacingAndGlyphs">124000.00</text>
<text x="1002.74" y="258.9" font-size="12" fill="#2a2e39" textLength="55.53" lengthAdjust="spacingAndGlyphs">120000.00</text>
<text x="1002.73" y="301.3" font-size="12" fill="#2a2e39" textLength="55.52" lengthAdjust="spacingAndGlyphs">116000.00</text>
<text x="1002.73" y="342.5" font-size="12" fill="#2a2e39" textLength="55.52" lengthAdjust="spacingAndGlyphs">112000.00</text>
<text x="1002.74" y="382.8" font-size="12" fill="#2a2e39" textLength="55.53" lengthAdjust="spacingAndGlyphs">108000.00</text>
<text x="1002.74" y="423.7" font-size="12" fill="#2a2e39" textLength="55.53" lengthAdjust="spacingAndGlyphs">104000.00</text>
<text x="1002.74" y="464.9" font-size="12" fill="#2a2e39" textLength="55.53" lengthAdjust="spacingAndGlyphs">100000.00</text>
<text x="1002.77" y="320.9" font-size="12" font-weight="bold" fill="#ffffff" textLength="55.07" lengthAdjust="spacingAndGlyphs">114064.36</text>
<text x="7.74" y="520.8" font-size="12" fill="#131722" textLength="12.94" lengthAdjust="spacingAndGlyphs" clip-path="url(#tclip)">16</text>
<text x="90.36" y="520.8" font-size="12" font-weight="bold" fill="#131722" textLength="27.22" lengthAdjust="spacingAndGlyphs">2021</text>
<text x="200.14" y="520.8" font-size="12" fill="#131722" textLength="22.26" lengthAdjust="spacingAndGlyphs">Mar</text>
<text x="322.08" y="520.8" font-size="12" fill="#131722" textLength="28.77" lengthAdjust="spacingAndGlyphs">Mayo</text>
<text x="450.32" y="520.8" font-size="12" fill="#131722" textLength="17.27" lengthAdjust="spacingAndGlyphs">Jul</text>
<text x="573.09" y="520.8" font-size="12" fill="#131722" textLength="20.6" lengthAdjust="spacingAndGlyphs">Sep</text>
<text x="691.63" y="520.8" font-size="12" fill="#131722" textLength="21.85" lengthAdjust="spacingAndGlyphs">Nov</text>
<text x="810.76" y="520.8" font-size="12" font-weight="bold" fill="#131722" textLength="27.84" lengthAdjust="spacingAndGlyphs">2022</text>
<text x="932.79" y="520.8" font-size="12" fill="#131722" textLength="21.45" lengthAdjust="spacingAndGlyphs">Mar</text>
<text x="33.91" y="552.6" font-size="13" fill="#33373f" textLength="69.63" lengthAdjust="spacingAndGlyphs">TradingView</text>
<text x="637.78" y="239" font-size="17.4" stroke="#4585ea" stroke-width="0.35" fill="#4585ea" textLength="22.35" lengthAdjust="spacingAndGlyphs">(1)</text>
<text x="673.07" y="335.9" font-size="17.4" stroke="#4585ea" stroke-width="0.35" fill="#4585ea" textLength="22.11" lengthAdjust="spacingAndGlyphs">(2)</text>
<text x="730.43" y="164.2" font-size="17.4" stroke="#4585ea" stroke-width="0.35" fill="#4585ea" textLength="22.86" lengthAdjust="spacingAndGlyphs">(3)</text>
<text x="753.69" y="262.6" font-size="17.4" stroke="#4585ea" stroke-width="0.35" fill="#4585ea" textLength="22.61" lengthAdjust="spacingAndGlyphs">(4)</text>
<text x="805.61" y="133" font-size="17.4" stroke="#4585ea" stroke-width="0.35" fill="#4585ea" textLength="22.56" lengthAdjust="spacingAndGlyphs">(5)</text>
<text x="624.64" y="416" font-size="17.4" stroke="#9c27b0" stroke-width="0.35" fill="#9c27b0" textLength="23.93" lengthAdjust="spacingAndGlyphs">(A)</text>
<text x="648.41" y="323.8" font-size="17.4" stroke="#9c27b0" stroke-width="0.35" fill="#9c27b0" textLength="22.82" lengthAdjust="spacingAndGlyphs">(B)</text>
<text x="671.91" y="450.6" font-size="17.4" stroke="#9c27b0" stroke-width="0.35" fill="#9c27b0" textLength="23.88" lengthAdjust="spacingAndGlyphs">(C)</text>
</svg>
</body></html>
